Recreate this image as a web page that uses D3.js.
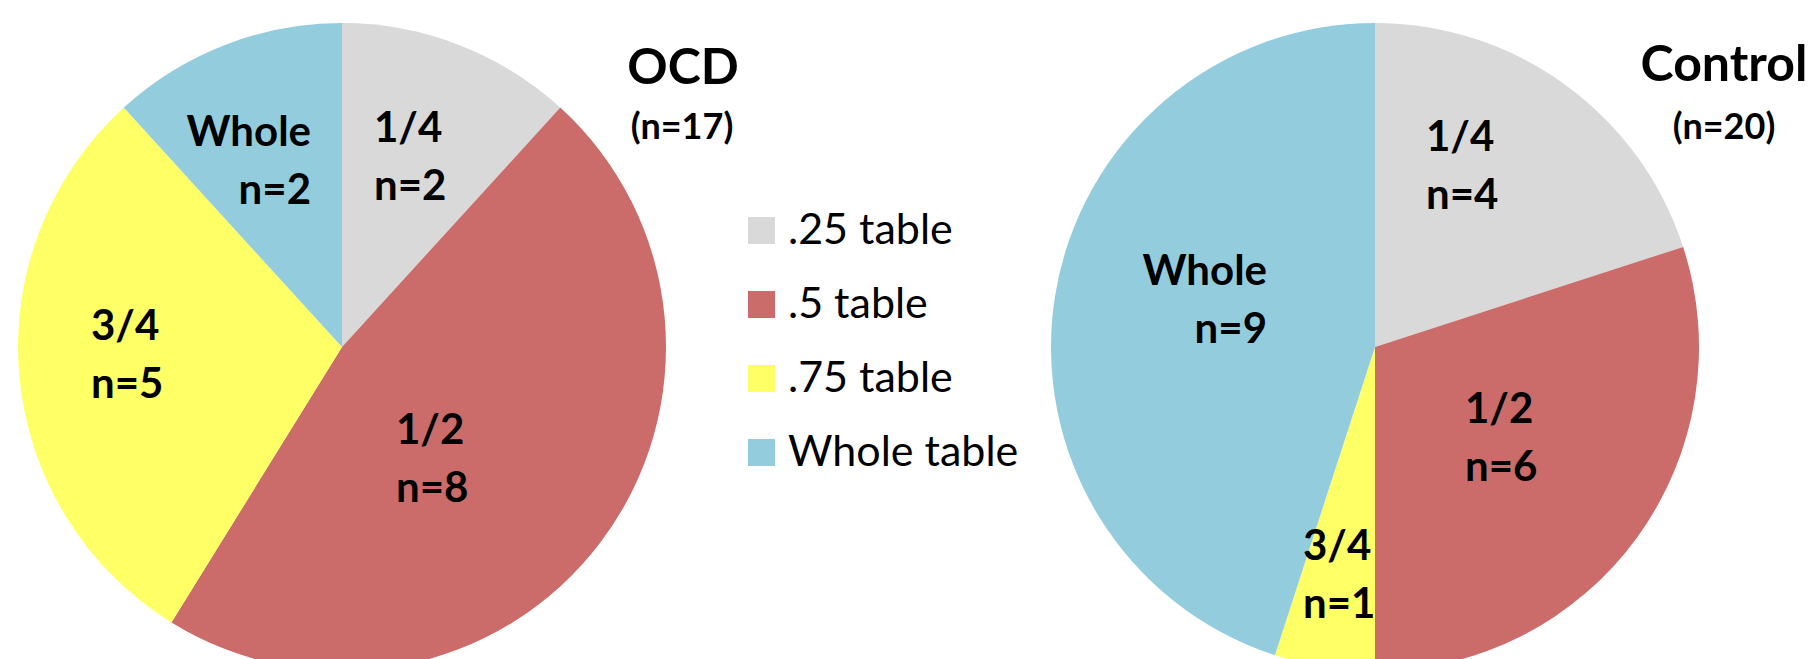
<!DOCTYPE html>
<html>
<head>
<meta charset="utf-8">
<script src="https://cdn.jsdelivr.net/npm/d3@7"></script>
<style>
  html, body { margin: 0; padding: 0; background: #ffffff; overflow: hidden; }
  svg { display: block; }
  text { font-family: Lato, "Open Sans", sans-serif; fill: #000; }
</style>
</head>
<body>
<svg id="chart" width="1811" height="659"></svg>
<script>
// ---- data ----
const categories = ["1/4", "1/2", "3/4", "Whole"];
const legendLabels = [".25 table", ".5 table", ".75 table", "Whole table"];
const ocdValues = [2, 8, 5, 2];
const controlValues = [4, 6, 1, 9];
const groupTitles = ["OCD", "Control"];
const groupCounts = ["(n=17)", "(n=20)"];
const colors = ["#D9D9D9", "#CC6C6A", "#FFFF66", "#93CDDD"];

const svg = d3.select("#chart");
const W = 1811, H = 659;
const R = 324;

const color = d3.scaleOrdinal().domain(categories).range(colors);
const pie = d3.pie().sort(null).value(d => d.value);
const arc = d3.arc().innerRadius(0).outerRadius(R);

// label layouts per group: [x, y(baseline of first line), anchor] relative to pie center
const labelSpecs = [
  [ // OCD
    {dx: 32, dy: -205, anchor: "start"},
    {dx: 54, dy: 97, anchor: "start"},
    {dx: -251, dy: -7, anchor: "start"},
    {dx: -31, dy: -201, anchor: "end"}
  ],
  [ // Control
    {dx: 51, dy: -196, anchor: "start"},
    {dx: 90, dy: 76, anchor: "start"},
    {dx: -72, dy: 213, anchor: "start"},
    {dx: -108, dy: -62, anchor: "end"}
  ]
];

const groups = [
  {values: ocdValues, cx: 342, cy: 347, title: groupTitles[0], count: groupCounts[0], tx: 683, ty: 84, cnx: 682, cny: 139},
  {values: controlValues, cx: 1375, cy: 347, title: groupTitles[1], count: groupCounts[1], tx: 1724, ty: 81, cnx: 1724, cny: 139}
];

groups.forEach((g, gi) => {
  const data = categories.map((c, i) => ({cat: c, value: g.values[i]}));
  const gEl = svg.append("g").attr("transform", `translate(${g.cx},${g.cy})`);
  gEl.selectAll("path")
    .data(pie(data))
    .join("path")
    .attr("d", arc)
    .attr("fill", d => color(d.data.cat));

  data.forEach((d, i) => {
    const s = labelSpecs[gi][i];
    const t = gEl.append("text")
      .attr("text-anchor", s.anchor)
      .style("font-weight", "700")
      .style("font-size", "42px");
    t.append("tspan").attr("x", s.dx).attr("y", s.dy).text(d.cat);
    t.append("tspan").attr("x", s.dx).attr("y", s.dy + 57.5).text("n=" + d.value);
  });

  svg.append("text")
    .attr("x", g.tx).attr("y", g.ty)
    .attr("text-anchor", "middle")
    .style("font-weight", "700")
    .style("font-size", "50px")
    .text(g.title);
  svg.append("text")
    .attr("x", g.cnx).attr("y", g.cny)
    .attr("text-anchor", "middle")
    .style("font-weight", "700")
    .style("font-size", "36px")
    .text(g.count);
});

// legend
const legendY = d3.scalePoint().domain(legendLabels).range([217, 439]);
const leg = svg.append("g");
legendLabels.forEach((lab, i) => {
  leg.append("rect")
    .attr("x", 748).attr("y", legendY(lab))
    .attr("width", 27).attr("height", 27)
    .attr("fill", colors[i]);
  leg.append("text")
    .attr("x", 788).attr("y", legendY(lab) + 26.5)
    .style("font-size", "43px")
    .text(lab);
});
</script>
</body>
</html>
